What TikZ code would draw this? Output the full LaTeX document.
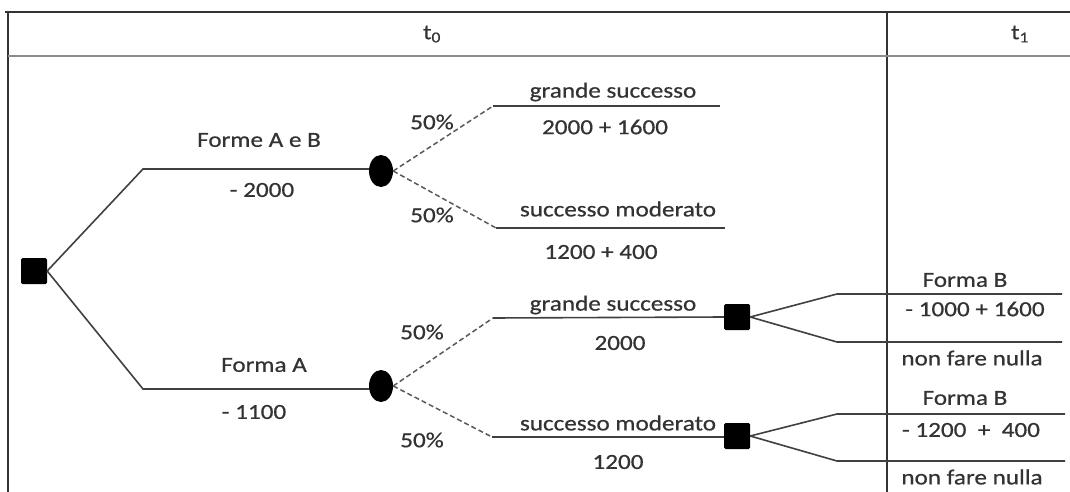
\documentclass[tikz,border=0pt]{standalone}
\usepackage{fontspec}
\setmainfont[FakeStretch=1.17,FakeBold=0.6]{Carlito}
\usetikzlibrary{shapes.geometric}
\begin{document}
\begin{tikzpicture}[x=1pt,y=-1pt,
  decbox/.style={rectangle, fill=black, minimum size=26pt, inner sep=0pt, rounded corners=1.5pt},
  chance/.style={ellipse, fill=black, minimum width=24pt, minimum height=32pt, inner sep=0pt},
  lbl/.style={font=\fontsize{21.5}{24}\selectfont, text=black!80, inner sep=0pt},
  branch/.style={draw=black!75, line width=1.6pt},
  prob/.style={draw=black!65, dashed, dash pattern=on 5pt off 3pt, line width=1.5pt},
  frame/.style={draw=black!80, line width=1.3pt}]
\useasboundingbox (0,0) rectangle (1070,492);
% table
\coordinate (tl) at (5,12);
\coordinate (tr) at (1070,12);
\coordinate (lt) at (8,12);
\coordinate (lb) at (8,492);
\coordinate (vt) at (887,12);
\coordinate (vb) at (887,492);
\coordinate (hl) at (8,56);
\coordinate (hr) at (1070,56);
\draw[frame] (tl) -- (tr);
\draw[frame] (lt) -- (lb);
\draw[frame] (vt) -- (vb);
\draw[draw=black!45, line width=2.6pt] (hl) -- (hr);
\node[lbl] (t0) at (432,34) {t\textsubscript{0}};
\node[lbl] (t1) at (1020,34) {t\textsubscript{1}};
% nodes
\node[decbox] (r) at (34,271) {};
\node[chance] (c1) at (381,171) {};
\node[chance] (c2) at (381,386) {};
\node[decbox] (d1) at (737,317) {};
\node[decbox] (d2) at (737,436) {};
\coordinate (u1) at (143,169);
\coordinate (u2) at (143,389);
\coordinate (g1s) at (493,106);
\coordinate (g1e) at (720,106);
\coordinate (m1s) at (496,228);
\coordinate (m1e) at (725,228);
\coordinate (g2s) at (493,318);
\coordinate (m2s) at (492,437);
\coordinate (b1s) at (837,294);
\coordinate (b1e) at (1062,294);
\coordinate (n1s) at (837,342);
\coordinate (n1e) at (1062,342);
\coordinate (b2s) at (837,414);
\coordinate (b2e) at (1065,414);
\coordinate (n2s) at (837,461);
\coordinate (n2e) at (1065,461);
% branches
\draw[branch] (r.east) -- (u1) -- (c1.west |- u1);
\draw[branch] (r.east) -- (u2) -- (c2.west |- u2);
\draw[prob] (c1.east) -- (g1s);
\draw[branch] (g1s) -- (g1e);
\draw[prob] (c1.east) -- (m1s);
\draw[branch] (m1s) -- (m1e);
\draw[prob] (c2.east) -- (g2s);
\draw[branch] (g2s) -- (d1.west);
\draw[prob] (c2.east) -- (m2s);
\draw[branch] (m2s) -- (d2.west |- m2s);
\draw[branch] (d1.east) -- (b1s) -- (b1e);
\draw[branch] (d1.east) -- (n1s) -- (n1e);
\draw[branch] (d2.east) -- (b2s) -- (b2e);
\draw[branch] (d2.east) -- (n2s) -- (n2e);
% labels
\node[lbl] (la) at (259,140) {Forme A e B};
\node[lbl] (lb1) at (262,190) {- 2000};
\node[lbl] (lc) at (264,365) {Forma A};
\node[lbl] (ld) at (254,412) {- 1100};
\node[lbl] (p1) at (432,122) {50\%};
\node[lbl] (p2) at (432,215) {50\%};
\node[lbl] (p3) at (422,332) {50\%};
\node[lbl] (p4) at (422,440) {50\%};
\node[lbl] (g1) at (613,92) {grande successo};
\node[lbl] (v1) at (605,127) {2000 + 1600};
\node[lbl] (m1) at (618,209) {successo moderato};
\node[lbl] (v2) at (601,252) {1200 + 400};
\node[lbl] (g2) at (613,305) {grande successo};
\node[lbl] (v3) at (620,343) {2000};
\node[lbl] (m2) at (618,423) {successo moderato};
\node[lbl] (v4) at (618,462) {1200};
\node[lbl] (fb1) at (965,280) {Forma B};
\node[lbl] (v5) at (975,309) {- 1000 + 1600};
\node[lbl] (nf1) at (972,358) {non fare nulla};
\node[lbl] (fb2) at (965,398) {Forma B};
\node[lbl] (v6) at (971,430) {- 1200 \ + \ 400};
\node[lbl] (nf2) at (972,477) {non fare nulla};
\end{tikzpicture}
\end{document}
